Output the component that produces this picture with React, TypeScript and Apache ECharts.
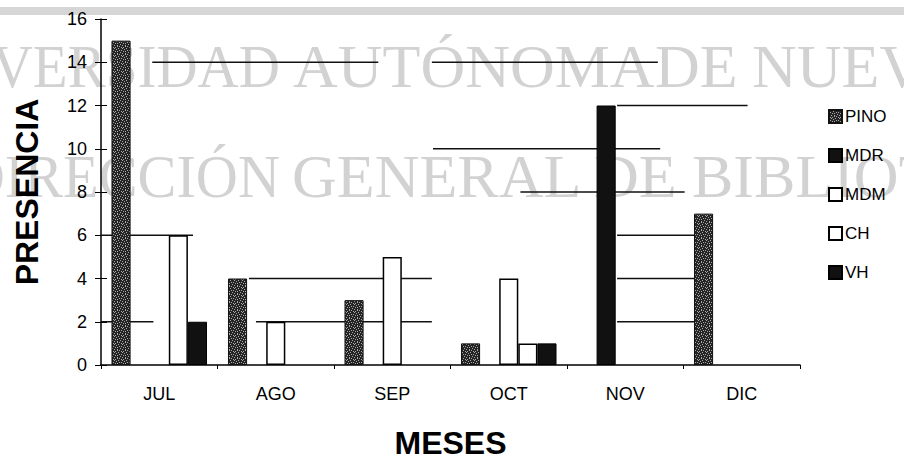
import React, { useEffect, useRef } from "react";
import * as echarts from "echarts";

const categories = ["JUL", "AGO", "SEP", "OCT", "NOV", "DIC"];
const seriesNames = ["PINO", "MDR", "MDM", "CH", "VH"];
const pinoValues = [15, 4, 3, 1, 0, 7];
const mdrValues = [0, 0, 0, 0, 12, 0];
const mdmValues = [0, 2, 5, 4, 0, 0];
const chValues = [6, 0, 0, 1, 0, 0];
const vhValues = [2, 0, 0, 1, 0, 0];
const yTicks = [0, 2, 4, 6, 8, 10, 12, 14, 16];

// remnants of the scanned grid lines: [from (category units), to (category units), y value]
const gridFragments = [
  [0.44, 2.38, 14], [2.84, 4.78, 14],
  [4.43, 5.55, 12],
  [2.85, 4.8, 10],
  [3.6, 5.01, 8],
  [0, 0.79, 6], [4.43, 5.12, 6],
  [1.27, 2.84, 4], [4.43, 5.12, 4],
  [0, 0.45, 2], [1.33, 2.84, 2], [4.43, 5.12, 2],
];

const watermark1 = [
  { t: "UNIVERSIDAD", x: 280, align: "right", sx: 0.92 },
  { t: "AUTÓNOMA", x: 293, align: "left", sx: 1 },
  { t: "DE", x: 655, align: "left", sx: 1 },
  { t: "NUEVO", x: 752, align: "left", sx: 1 },
];
const watermark2 = [
  { t: "DIRECCIÓN", x: 280, align: "right", sx: 0.94 },
  { t: "GENERAL", x: 292, align: "left", sx: 1 },
  { t: "DE", x: 594, align: "left", sx: 1 },
  { t: "BIBLIOTECAS", x: 692, align: "left", sx: 1 },
];

// texture of the stippled PINO fill ('o' = light speck)
const stipple = [
  "..o...o.",
  "....o...",
  ".o.....o",
  "...o.o..",
  "o.......",
  "..o..o..",
  ".....o.o",
  ".o.o....",
];

const nz = (arr: number[]) => arr.map((v) => (v === 0 ? null : v));

function makePattern() {
  const c = document.createElement("canvas");
  const n = stipple.length;
  c.width = n;
  c.height = n;
  const ctx = c.getContext("2d");
  if (!ctx) return "#444";
  ctx.fillStyle = "#242424";
  ctx.fillRect(0, 0, n, n);
  ctx.fillStyle = "#a8a8a8";
  stipple.forEach((row, y) =>
    row.split("").forEach((ch, x) => {
      if (ch === "o") ctx.fillRect(x, y, 1, 1);
    })
  );
  return { image: c, repeat: "repeat" };
}

export default function App() {
  const ref = useRef<HTMLDivElement>(null);
  useEffect(() => {
    document.body.style.margin = "0";
    if (!ref.current) return;
    const chart = echarts.init(ref.current, null, { renderer: "svg" });
    const font = "Liberation Sans, Arial, sans-serif";
    const wmText = (arr: any[], y: number) =>
      arr.map((w) => ({
        type: "text",
        z: -10,
        x: w.x,
        y,
        scaleX: w.sx,
        style: {
          text: w.t,
          x: 0,
          y: 0,
          fill: "#d2d2d2",
          font: "62px 'Liberation Serif', 'Times New Roman', serif",
          textAlign: w.align,
          align: w.align,
          textVerticalAlign: "middle",
          verticalAlign: "middle",
        },
      }));
    const pinoStyle = { color: makePattern(), borderColor: "#111", borderWidth: 1 };
    const dark = { color: "#111", borderColor: "#000", borderWidth: 1 };
    const white = { color: "#fff", borderColor: "#000", borderWidth: 1.5 };
    const styles = [pinoStyle, dark, white, white, dark];
    const values = [pinoValues, mdrValues, mdmValues, chValues, vhValues];
    chart.setOption({
      animation: false,
      backgroundColor: "#fff",
      textStyle: { fontFamily: font },
      graphic: [
        { type: "rect", z: -10, shape: { x: 0, y: 7, width: 904, height: 8 }, style: { fill: "#d6d6d6" } },
        ...wmText(watermark1, 66),
        ...wmText(watermark2, 176),
      ],
      grid: { left: 101, right: 104, top: 19, bottom: 101, containLabel: false },
      legend: {
        orient: "vertical",
        left: 828,
        top: 108,
        itemWidth: 13,
        itemHeight: 13,
        itemGap: 22,
        icon: "rect",
        padding: 0,
        data: seriesNames,
        textStyle: { fontSize: 17, color: "#000", fontFamily: font, padding: [0, 0, 0, -2] },
      },
      xAxis: [
        {
          type: "category",
          data: categories,
          name: "MESES",
          nameLocation: "middle",
          nameGap: 62,
          nameTextStyle: { fontSize: 32, fontWeight: "bold", color: "#000", fontFamily: font },
          axisLine: { lineStyle: { color: "#000", width: 1.5 } },
          axisTick: { show: true, length: 4, lineStyle: { color: "#000" } },
          axisLabel: { fontSize: 18, color: "#000", margin: 20, fontFamily: font },
          splitLine: { show: false },
        },
        { type: "value", min: 0, max: 6, show: false, position: "top" },
      ],
      yAxis: [
        {
          type: "value",
          min: 0,
          max: 16,
          interval: 2,
          name: "PRESENCIA",
          nameLocation: "middle",
          nameGap: 58,
          nameTextStyle: { fontSize: 32, fontWeight: "bold", color: "#000", fontFamily: font },
          axisLine: { show: true, lineStyle: { color: "#000", width: 1.5 } },
          axisTick: { show: true, length: 6, lineStyle: { color: "#000" } },
          axisLabel: {
            fontSize: 18,
            color: "#000",
            margin: 14,
            fontFamily: font,
            formatter: (v: number) => (yTicks.includes(v) ? String(v) : ""),
          },
          splitLine: { show: false },
        },
        {
          type: "value",
          min: 0,
          max: 16,
          interval: 2,
          position: "left",
          axisLine: { show: false },
          axisTick: { show: true, inside: true, length: 6, lineStyle: { color: "#000" } },
          axisLabel: { show: false },
          splitLine: { show: false },
        },
      ],
      series: [
        ...seriesNames.map((name, i) => ({
          name,
          type: "bar",
          xAxisIndex: 0,
          yAxisIndex: 0,
          data: nz(values[i]),
          barGap: "0%",
          barCategoryGap: "18%",
          itemStyle: styles[i],
          z: 3,
        })),
        {
          type: "custom",
          xAxisIndex: 1,
          yAxisIndex: 0,
          z: 1,
          silent: true,
          encode: { x: [0, 1], y: 2 },
          data: gridFragments,
          renderItem: (_p: any, api: any) => {
            const a = api.coord([api.value(0), api.value(2)]);
            const b = api.coord([api.value(1), api.value(2)]);
            return {
              type: "line",
              shape: { x1: a[0], y1: a[1], x2: b[0], y2: b[1] },
              style: { stroke: "#111", lineWidth: 1.3 },
            };
          },
        },
      ],
    });
    return () => chart.dispose();
  }, []);
  return <div ref={ref} style={{ width: 904, height: 466 }} />;
}
